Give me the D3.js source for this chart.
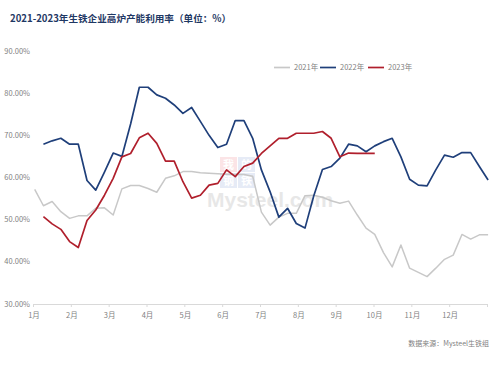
<!DOCTYPE html>
<html><head><meta charset="utf-8">
<script src="https://cdn.jsdelivr.net/npm/d3@7"></script>
<style>body{margin:0;background:#fff}svg{display:block}</style>
</head><body><svg id="c" width="500" height="368"></svg>
<script>
const months = ["1月","2月","3月","4月","5月","6月","7月","8月","9月","10月","11月","12月"];
const yTicks = [30,40,50,60,70,80,90];
const seriesNames = ["2021年","2022年","2023年"];
const seriesColors = ["#c8c8c8","#1f3f7a","#b01f2c"];
const seriesStart = [0,1,1];
const y2021 = [57.2,53.3,54.3,51.9,50.3,50.9,50.9,52.7,52.8,51.1,57.3,58.1,58.1,57.4,56.5,59.8,60.4,61.4,61.4,61.1,61.0,60.9,60.8,60.7,60.7,60.3,51.8,48.7,50.6,51.5,51.5,55.7,55.8,55.3,54.5,53.9,54.4,51.1,48.0,46.5,42.2,38.8,44.0,38.5,37.5,36.5,38.5,40.6,41.6,46.5,45.4,46.4,46.4];
const y2022 = [67.9,68.7,69.3,67.9,67.9,59.3,57.0,61.3,65.8,65.0,72.7,81.4,81.4,79.6,78.8,77.2,75.2,76.6,73.3,70.0,67.1,67.9,73.5,73.5,69.3,61.8,56.6,50.6,52.7,49.1,48.0,55.6,61.9,62.6,64.6,67.9,67.5,66.1,67.5,68.5,69.3,64.9,59.6,58.2,58.0,61.8,65.3,64.8,65.9,65.9,62.6,59.4];
const y2023 = [50.7,49.0,47.7,44.8,43.4,49.8,52.3,55.8,59.8,64.9,65.7,69.4,70.5,68.1,63.9,63.9,59.0,55.1,55.8,58.2,58.6,61.8,60.2,62.6,63.4,65.7,67.5,69.3,69.3,70.5,70.5,70.5,70.9,69.3,64.9,65.8,65.7,65.7,65.7];
const allSeries = [y2021,y2022,y2023];

const svg = d3.select("#c");
const FONT = "'Noto Sans CJK SC','Noto Sans',sans-serif";
svg.append("rect").attr("width",500).attr("height",368).attr("fill","#fff");

const x = d3.scaleLinear().domain([0,52]).range([34.7,488.1]);
const xm = d3.scaleLinear().domain([0,12]).range([33,487]);
const y = d3.scaleLinear().domain([30,90]).range([304,51]);

// title
svg.append("text").attr("x",10).attr("y",22).attr("font-family",FONT)
  .attr("font-size",9.6).attr("font-weight","bold").attr("fill","#1f3864")
  .text("2021-2023年生铁企业高炉产能利用率（单位：%）");

// y labels
svg.append("g").selectAll("text").data(yTicks).join("text")
  .attr("x",30).attr("y",d=>y(d)).attr("dy","0.35em").attr("text-anchor","end")
  .attr("font-family",FONT).attr("font-size",7.5).attr("fill","#7f7f7f")
  .text(d=>d.toFixed(2)+"%");

// x axis
const ax = svg.append("g").attr("transform","translate(0,304)")
  .call(d3.axisBottom(xm).tickValues(d3.range(13)).tickSize(3).tickFormat(""));
ax.select(".domain").attr("stroke","#d9d9d9");
ax.selectAll(".tick line").attr("stroke","#d9d9d9");
svg.append("g").selectAll("text").data(months).join("text")
  .attr("x",(d,i)=>xm(i)+1).attr("y",318).attr("text-anchor","middle")
  .attr("font-family",FONT).attr("font-size",7.5).attr("fill","#7f7f7f").text(d=>d);

// watermark
const wm = svg.append("g").attr("opacity",0.35);
wm.append("rect").attr("x",220).attr("y",157).attr("width",17).attr("height",15).attr("fill","#f4b3b8");
wm.append("rect").attr("x",238).attr("y",157).attr("width",17).attr("height",15).attr("fill","#b8c8e8");
wm.append("rect").attr("x",220).attr("y",173).attr("width",17).attr("height",15).attr("fill","#b8c8e8");
wm.append("rect").attr("x",238).attr("y",173).attr("width",17).attr("height",15).attr("fill","#b8c8e8");
[["我",228.5,168.5],["的",246.5,168.5],["钢",228.5,184.5],["铁",246.5,184.5]].forEach(t=>{
  wm.append("text").attr("x",t[1]).attr("y",t[2]).attr("text-anchor","middle").attr("font-family",FONT)
    .attr("font-size",11).attr("font-weight","bold").attr("fill","#fff").text(t[0]);
});
wm.append("text").attr("x",207).attr("y",207).attr("font-family","'Liberation Sans',Arial,sans-serif")
  .attr("font-size",21).attr("font-weight","bold").attr("fill","#bdbdbd").text("Mysteel.com");

// lines
const line = d3.line().x(d=>x(d.i)).y(d=>y(d.v)).curve(d3.curveLinear);
allSeries.forEach((s,k)=>{
  svg.append("path").datum(s.map((v,j)=>({i:j+seriesStart[k],v})))
    .attr("d",line).attr("fill","none").attr("stroke",seriesColors[k])
    .attr("stroke-width",k===0?1.5:1.7).attr("stroke-linejoin","round");
});

// legend
const legX = [274,320,368];
const lg = svg.append("g");
seriesNames.forEach((n,k)=>{
  lg.append("line").attr("x1",legX[k]).attr("x2",legX[k]+16).attr("y1",67.5).attr("y2",67.5)
    .attr("stroke",seriesColors[k]).attr("stroke-width",1.7);
  lg.append("text").attr("x",legX[k]+20).attr("y",67.5).attr("dy","0.35em")
    .attr("font-family",FONT).attr("font-size",7.5).attr("fill","#7f7f7f").text(n);
});

// source
svg.append("text").attr("x",489).attr("y",346).attr("text-anchor","end")
  .attr("font-family",FONT).attr("font-size",7).attr("fill","#7f7f7f")
  .text("数据来源：Mysteel生铁组");
</script></body></html>
